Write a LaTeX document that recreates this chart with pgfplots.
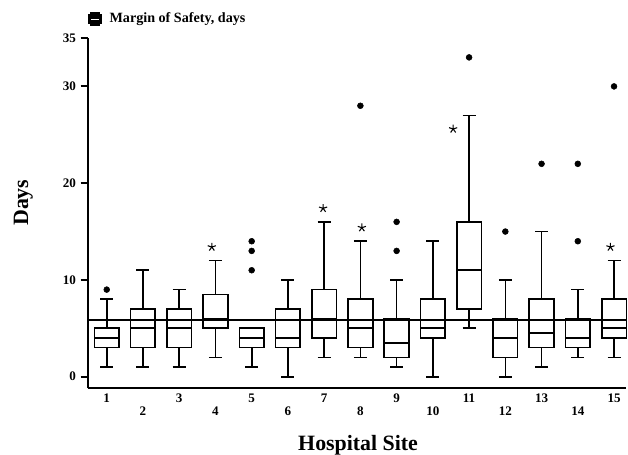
\documentclass[border=0pt]{standalone}
\usepackage{pgfplots}
\usepackage{fontspec}
\setmainfont{Liberation Serif}
\pgfplotsset{compat=1.18}
\usepgfplotslibrary{statistics}
\newcommand{\bx}[6]{\addplot[black,line width=1.25pt,forget plot,boxplot prepared={draw position=#1,lower whisker=#2,lower quartile=#3,median=#4,upper quartile=#5,upper whisker=#6}] coordinates {};}
\begin{document}
\begin{tikzpicture}[x=0.75pt,y=0.75pt]
\useasboundingbox (-88,-65.7) rectangle (540,388.3);
\begin{axis}[
  at={(0,0)},anchor=south west,
  scale only axis,width=403.5pt,height=262.7pt,
  xmin=0.483,xmax=15.33,ymin=-1.2,ymax=35,
  axis lines=left,axis line style={-,line width=1.4pt},
  clip=false,
  xtick={1,3,5,7,9,11,13,15},
  extra x ticks={2,4,6,8,10,12,14},
  extra x tick style={tick label style={yshift=-15pt},major tick length=0pt},
  xtick style={draw=none},
  major x tick style={draw=none},
  ytick={0,10,20,30,35},
  tick align=outside,
  ytick style={line width=1.4pt,black},
  major tick length=5.5pt,
  tick label style={font=\bfseries\fontsize{9.8}{11}\selectfont},
  /pgf/number format/assume math mode=true,
  x tick label style={yshift=4.75pt},
  xlabel={Hospital Site},
  ylabel={Days},
  label style={font=\bfseries\fontsize{16.4}{19}\selectfont},
  xlabel style={at={(axis description cs:0.502,-0.162)},anchor=center},
  ylabel style={at={(axis description cs:-0.12,0.53)},anchor=center,rotate=0},
  boxplot/draw direction=y,
  boxplot/box extend=0.68,
  boxplot/whisker extend=0.36,
  legend style={draw=none,fill=none,at={(axis description cs:0.0,1.055)},anchor=west,font=\bfseries\fontsize{10.6}{12}\selectfont,inner sep=0pt,row sep=0pt},
  legend cell align=left,
]
\addplot[black,line width=1.4pt,
  legend image code/.code={
    \fill[black] (0.05cm,-4.6pt) rectangle (0.27cm,4.6pt);
    \fill[black] (0cm,-3pt) rectangle (0.32cm,3pt);
    \draw[white,line width=0.4pt] (0.06cm,0pt) -- (0.26cm,0pt);
  }] coordinates {(0.483,5.9) (15.33,5.9)};
\addlegendentry{\hspace{3.5pt}Margin of Safety, days}
\bx{1}{1}{3}{4}{5}{8}
\bx{2}{1}{3}{5}{7}{11}
\bx{3}{1}{3}{5}{7}{9}
\bx{4}{2}{5}{6}{8.5}{12}
\bx{5}{1}{3}{4}{5}{5}
\bx{6}{0}{3}{4}{7}{10}
\bx{7}{2}{4}{6}{9}{16}
\bx{8}{2}{3}{5}{8}{14}
\bx{9}{1}{2}{3.5}{6}{10}
\bx{10}{0}{4}{5}{8}{14}
\bx{11}{5}{7}{11}{16}{27}
\bx{12}{0}{2}{4}{6}{10}
\bx{13}{1}{3}{4.5}{8}{15}
\bx{14}{2}{3}{4}{6}{9}
\bx{15}{2}{4}{5}{8}{12}
\addplot[only marks,mark=*,mark size=2.2pt,black,forget plot] coordinates {
(1,9) (5,11) (5,13) (5,14) (8,28) (9,13) (9,16) (11,33) (12,15) (13,22) (14,14) (14,22) (15,30)};
\addplot[only marks,mark=star,mark size=3.2pt,black,line width=0.8pt,forget plot] coordinates {
(3.9,13.4) (6.97,17.4) (8.04,15.4) (10.56,25.6) (14.9,13.4)};
\end{axis}
\end{tikzpicture}
\end{document}
